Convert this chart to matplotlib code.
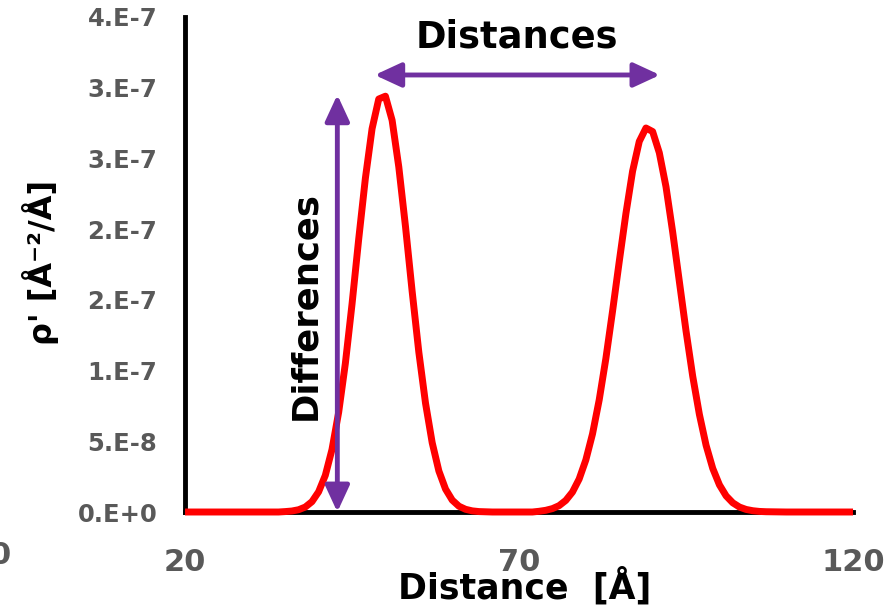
import matplotlib
matplotlib.use('Agg')
import matplotlib.pyplot as plt

plt.rcParams['font.family'] = ['DejaVu Sans']
plt.rcParams['font.weight'] = 'bold'

# curve
dist = [20, 25, 30, 34,
        35, 36, 37, 38, 39, 40, 41, 42, 43, 44, 45, 46, 47, 48, 49, 50,
        51, 52, 53, 54, 55, 56, 57, 58, 59, 60, 61, 62, 63, 64,
        66, 68, 70, 72,
        73, 74, 75, 76, 77, 78, 79, 80, 81, 82, 83, 84, 85, 86, 87, 88,
        89, 90, 91, 92, 93, 94, 95, 96, 97, 98, 99, 100, 101, 102, 103,
        104, 105, 106, 107,
        110, 115, 120]
rho = [0, 0, 0, 0,
       0.3e-9, 0.7e-9, 1.6e-9, 3.5e-9, 7.3e-9, 1.43e-8, 2.59e-8, 4.42e-8,
       7.05e-8, 1.05e-7, 1.47e-7, 1.93e-7, 2.36e-7, 2.71e-7, 2.92e-7,
       2.94e-7, 2.77e-7, 2.44e-7, 2.02e-7, 1.56e-7, 1.13e-7, 7.7e-8,
       4.9e-8, 2.9e-8, 1.62e-8, 8.4e-9, 4.1e-9, 1.9e-9, 0.8e-9, 0.3e-9,
       0, 0, 0, 0,
       0.5e-9, 1.2e-9, 2.4e-9, 4.5e-9, 8.2e-9, 1.41e-8, 2.33e-8, 3.68e-8,
       5.52e-8, 7.92e-8, 1.085e-7, 1.42e-7, 1.77e-7, 2.11e-7, 2.41e-7,
       2.62e-7, 2.715e-7, 2.69e-7, 2.54e-7, 2.3e-7, 1.98e-7, 1.63e-7,
       1.28e-7, 9.6e-8, 6.9e-8, 4.72e-8, 3.08e-8, 1.92e-8, 1.14e-8,
       6.5e-9, 3.5e-9, 1.8e-9, 0.9e-9, 0.4e-9, 0.2e-9,
       0, 0, 0]

x_ticks = [20, 70, 120]
y_ticks = [0, 5e-8, 1e-7, 1.5e-7, 2e-7, 2.5e-7, 3e-7, 3.5e-7]
y_labels = ['0.E+0', '5.E-8', '1.E-7', '2.E-7', '2.E-7', '3.E-7', '3.E-7', '4.E-7']

# arrows: (start, end) in data units
dist_arrow = ((48.4, 3.09e-7), (91.1, 3.09e-7))
diff_arrow = ((42.8, 0), (42.8, 2.95e-7))

purple = '#7030A0'
grey = '#595959'

fig = plt.figure(figsize=(8.87, 6.07), dpi=100)
ax = fig.add_axes([0.2086, 0.1565, 0.7531, 0.8155])

ax.plot(dist, rho, color='red', lw=5, clip_on=False, zorder=3,
        solid_joinstyle='round', solid_capstyle='butt')

ax.set_xlim(20, 120)
ax.set_ylim(0, 3.5e-7)
ax.set_xticks(x_ticks)
ax.set_xticklabels([str(t) for t in x_ticks])
ax.set_yticks(y_ticks)
ax.set_yticklabels(y_labels)
ax.tick_params(axis='x', length=0, pad=26, labelsize=22, labelcolor=grey)
ax.tick_params(axis='y', length=0, pad=20, labelsize=17.5, labelcolor=grey)
for lab in ax.get_xticklabels() + ax.get_yticklabels():
    lab.set_fontweight('bold')

for s in ['top', 'right']:
    ax.spines[s].set_visible(False)
for s in ['left', 'bottom']:
    ax.spines[s].set_linewidth(3.5)
    ax.spines[s].set_color('black')

ax.set_xlabel('Distance  [Å]', fontsize=25, fontweight='bold')
ax.xaxis.label.set_va('baseline')
ax.xaxis.set_label_coords(0.509, -0.175)
ax.set_ylabel("ρ' [Å⁻²/Å]", fontsize=23, fontweight='bold')
ax.yaxis.label.set_va('center')
ax.yaxis.label.set_rotation_mode('default')
ax.yaxis.set_label_coords(-0.217, 0.505)

for (p0, p1) in [dist_arrow, diff_arrow]:
    ax.annotate('', xy=p1, xytext=p0,
                arrowprops=dict(arrowstyle='<|-|>,head_length=0.8,head_width=0.37',
                                color=purple, lw=3.5, mutation_scale=20,
                                shrinkA=0, shrinkB=0),
                annotation_clip=False, zorder=4)

ax.text(69.7, 3.36e-7, 'Distances', fontsize=26.5, fontweight='bold',
        ha='center', va='center')
ax.text(38.0, 1.46e-7, 'Differences', fontsize=25.5, fontweight='bold',
        rotation=90, ha='center', va='center')

# fragment of a label cut off by the left edge
fig.text(0.012, 0.085, '0', fontsize=22, fontweight='bold', color=grey,
         ha='right', va='center')

fig.savefig('out.png', dpi=100)
